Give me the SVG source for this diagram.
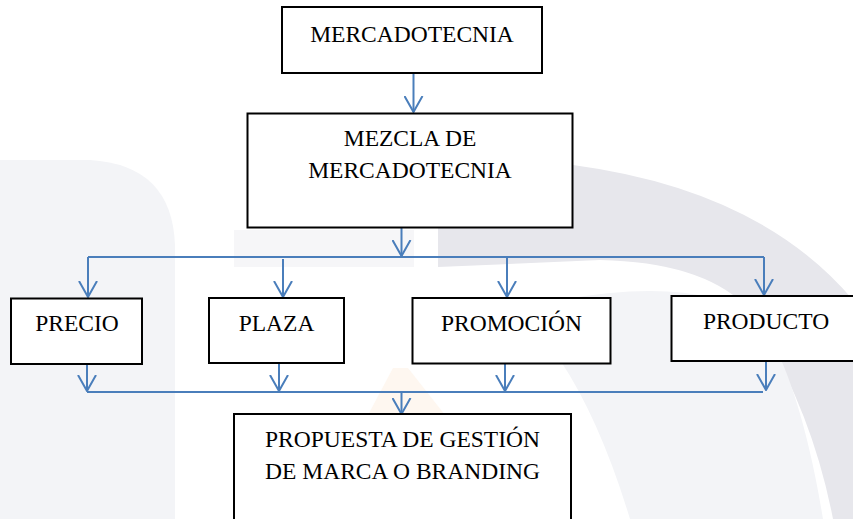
<svg xmlns="http://www.w3.org/2000/svg" width="853" height="519" viewBox="0 0 853 519">
<style>
.box{fill:#fff;stroke:#000;stroke-width:2}
.lbl{font-family:"Liberation Serif","Times New Roman",serif;font-size:23.5px;fill:#000;text-anchor:middle}
.con{stroke:#4a7ebb;stroke-width:2;fill:none}
.arr{stroke:#4a7ebb;stroke-width:2;fill:none;marker-end:url(#v)}
</style>
<defs>
<marker id="v" viewBox="0 0 17 20" refX="16" refY="10" markerWidth="17" markerHeight="20" markerUnits="userSpaceOnUse" orient="auto">
<path d="M0,1 L16,10 L0,19" fill="none" stroke="#4a7ebb" stroke-width="2"/>
</marker>
</defs>
<rect width="853" height="519" fill="#fff"/>
<g id="watermark">
<path d="M0,160 H90 Q172,165 175,245 V519 H0 Z" fill="#f3f4f7"/>
<rect x="234" y="230" width="180" height="37" fill="#f6f6f8"/>
<path d="M438,165 L573,165 Q760,190 853,300 L853,519 L833,519 Q810,400 745,305 Q700,262 600,260 L438,267 Z" fill="#e7e7ec"/>
<path d="M560,300 Q700,275 760,320 Q800,380 823,519 L630,519 Q600,420 560,360 Z" fill="#f3f4f7"/>
<path d="M393,368 L408,368 L445,415 L368,415 Z" fill="#fef7f0"/>
</g>
<g id="connectors">
<line class="arr" x1="413.5" y1="73" x2="413.5" y2="112"/>
<line class="arr" x1="401.5" y1="227" x2="401.5" y2="256"/>
<line class="con" x1="88" y1="257" x2="764" y2="257"/>
<line class="arr" x1="88" y1="257" x2="88" y2="297"/>
<line class="arr" x1="283" y1="259" x2="283" y2="297"/>
<line class="arr" x1="507" y1="257" x2="507" y2="297"/>
<line class="arr" x1="764" y1="257" x2="764" y2="295"/>
<line class="arr" x1="87" y1="364" x2="87" y2="391"/>
<line class="arr" x1="279" y1="363" x2="279" y2="391"/>
<line class="arr" x1="505" y1="363" x2="505" y2="391"/>
<line class="arr" x1="766" y1="361" x2="766" y2="390"/>
<line class="con" x1="87" y1="392" x2="763" y2="392"/>
<line class="arr" x1="401.5" y1="392" x2="401.5" y2="414"/>
</g>
<g id="mercadotecnia">
<rect class="box" x="282" y="7" width="260" height="66"/>
<text class="lbl" x="412" y="42">MERCADOTECNIA</text>
</g>
<g id="mezcla">
<rect class="box" x="247.5" y="113.5" width="325" height="114"/>
<text class="lbl" x="410" y="146">MEZCLA DE</text>
<text class="lbl" x="410" y="178">MERCADOTECNIA</text>
</g>
<g id="precio">
<rect class="box" x="11" y="298.5" width="131" height="65.5"/>
<text class="lbl" x="77" y="331">PRECIO</text>
</g>
<g id="plaza">
<rect class="box" x="209" y="298" width="135" height="65"/>
<text class="lbl" x="276.5" y="331">PLAZA</text>
</g>
<g id="promocion">
<rect class="box" x="412.5" y="298" width="198" height="65.5"/>
<text class="lbl" x="511.5" y="331">PROMOCIÓN</text>
</g>
<g id="producto">
<rect class="box" x="671.5" y="296" width="185" height="65"/>
<text class="lbl" x="766" y="329">PRODUCTO</text>
</g>
<g id="propuesta">
<rect class="box" x="234" y="414" width="337" height="111"/>
<text class="lbl" x="402.5" y="447">PROPUESTA DE GESTIÓN</text>
<text class="lbl" x="402.5" y="478.5">DE MARCA O BRANDING</text>
</g>
</svg>
